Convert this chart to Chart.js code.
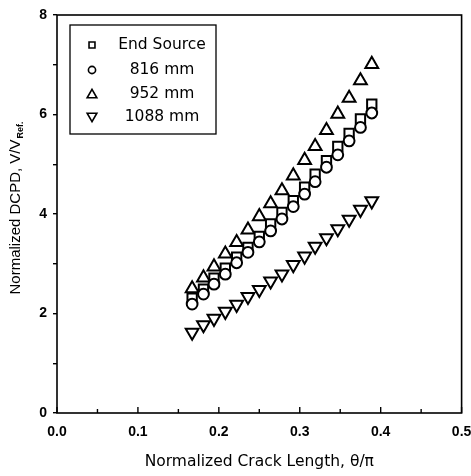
<!DOCTYPE html>
<html>
<head>
<meta charset="utf-8">
<script src="https://cdn.jsdelivr.net/npm/chart.js@4/dist/chart.umd.min.js"></script>
<style>
  html, body { margin: 0; padding: 0; background: #fff; }
  #wrap { width: 471px; height: 476px; position: relative; }
</style>
</head>
<body>
<div id="wrap"><canvas id="chart_dcpd"></canvas></div>
<script>
// normalized crack length theta/pi
var crackLength = [0.167, 0.181, 0.194, 0.208, 0.222, 0.236, 0.250, 0.264, 0.278,
                   0.292, 0.306, 0.319, 0.333, 0.347, 0.361, 0.375, 0.389];

var endSource = [2.31, 2.49, 2.71, 2.91, 3.13, 3.33, 3.55, 3.80, 4.03,
                 4.27, 4.54, 4.80, 5.07, 5.36, 5.62, 5.91, 6.21];
var probe816  = [2.19, 2.39, 2.59, 2.79, 3.02, 3.23, 3.44, 3.66, 3.90,
                 4.15, 4.40, 4.65, 4.94, 5.19, 5.47, 5.74, 6.03];
var probe952  = [2.50, 2.72, 2.94, 3.20, 3.43, 3.68, 3.95, 4.21, 4.47,
                 4.77, 5.08, 5.36, 5.68, 6.01, 6.33, 6.68, 7.01];
var probe1088 = [1.62, 1.77, 1.90, 2.04, 2.18, 2.34, 2.48, 2.65, 2.79,
                 2.98, 3.15, 3.35, 3.52, 3.70, 3.89, 4.09, 4.26];

var seriesLabels = ['End Source', '816 mm', '952 mm', '1088 mm'];
var xTickLabels = ['0.0', '0.1', '0.2', '0.3', '0.4', '0.5'];
var yTickLabels = ['0', '2', '4', '6', '8'];

function toPoints(ys) {
    return ys.map(function(y, i) { return {x: crackLength[i], y: y}; });
}

var markers = [
    {style: 'rect', radius: 6.6, rotation: 0, legendRadius: 4.2},
    {style: 'circle', radius: 5.4, rotation: 0, legendRadius: 3.6},
    {style: 'triangle', radius: 7.4, rotation: 0, legendRadius: 5.6},
    {style: 'triangle', radius: 7.4, rotation: 180, legendRadius: 5.6}
];
var seriesValues = [endSource, probe816, probe952, probe1088];
// circles sit on top of the squares
var drawOrder = [2, 1, 3, 4];

var datasets = seriesValues.map(function(vals, i) {
    return {
        label: seriesLabels[i],
        data: toPoints(vals),
        showLine: false,
        pointStyle: markers[i].style,
        pointRadius: markers[i].radius,
        pointRotation: markers[i].rotation,
        pointBorderWidth: 2,
        pointBorderColor: '#000',
        pointBackgroundColor: '#fff',
        order: drawOrder[i]
    };
});

var textFont = '"DejaVu Sans", Verdana, sans-serif';
var tickFont = { family: '"Liberation Sans", Arial, sans-serif', size: 14, weight: 'bold' };

var framePlugin = {
    id: 'frameAndTicks',
    afterDatasetsDraw: function(chart) {
        var ctx = chart.ctx;
        var a = chart.chartArea;
        var xs = chart.scales.x;
        ctx.save();
        ctx.strokeStyle = '#000';
        ctx.lineWidth = 1.6;
        ctx.strokeRect(a.left, a.top, a.right - a.left, a.bottom - a.top);
        // inward ticks on the bottom axis
        ctx.lineWidth = 1.4;
        xs.ticks.forEach(function(t) {
            var px = xs.getPixelForValue(t.value);
            var major = Math.abs(t.value * 10 - Math.round(t.value * 10)) < 1e-6;
            ctx.beginPath();
            ctx.moveTo(px, a.bottom);
            ctx.lineTo(px, a.bottom - (major ? 6 : 4));
            ctx.stroke();
        });
        ctx.restore();
    },
    afterDraw: function(chart) {
        var ctx = chart.ctx;
        var a = chart.chartArea;
        ctx.save();
        // y axis title with subscript
        var main = 'Normalized DCPD, V/V';
        var sub = 'Ref.';
        ctx.font = '15px "Liberation Sans", Arial, sans-serif';
        var wMain = ctx.measureText(main).width;
        ctx.font = 'bold 9px "Liberation Sans", Arial, sans-serif';
        var wSub = ctx.measureText(sub).width;
        var total = wMain + wSub + 1;
        var cy = (a.top + a.bottom) / 2 - 6;
        ctx.translate(16, cy);
        ctx.rotate(-Math.PI / 2);
        ctx.fillStyle = '#000';
        ctx.textBaseline = 'middle';
        ctx.textAlign = 'left';
        ctx.font = '15px "Liberation Sans", Arial, sans-serif';
        ctx.fillText(main, -total / 2, 0);
        ctx.font = 'bold 9px "Liberation Sans", Arial, sans-serif';
        ctx.fillText(sub, -total / 2 + wMain + 1, 5);
        ctx.restore();

        // legend box inside the plot
        ctx.save();
        var box = {left: 70, top: 25, right: 216, bottom: 134};
        ctx.fillStyle = '#fff';
        ctx.fillRect(box.left, box.top, box.right - box.left, box.bottom - box.top);
        ctx.strokeStyle = '#000';
        ctx.lineWidth = 1.3;
        ctx.strokeRect(box.left, box.top, box.right - box.left, box.bottom - box.top);
        var rowY = [45, 70, 94, 117];
        ctx.font = '15.5px ' + textFont;
        ctx.textBaseline = 'middle';
        ctx.textAlign = 'center';
        chart.data.datasets.forEach(function(ds, i) {
            ctx.lineWidth = 1.6;
            ctx.strokeStyle = '#000';
            ctx.fillStyle = '#fff';
            Chart.helpers.drawPoint(ctx, {
                pointStyle: markers[i].style,
                rotation: markers[i].rotation,
                radius: markers[i].legendRadius,
                borderWidth: 1.6
            }, 92, rowY[i] + (markers[i].style === 'triangle' ? (markers[i].rotation ? -1 : 1) : 0));
            ctx.fillStyle = '#000';
            ctx.fillText(ds.label, 162, rowY[i]);
        });
        ctx.restore();
    }
};

var chart_dcpd = new Chart(document.getElementById('chart_dcpd'), {
    type: 'scatter',
    data: { datasets: datasets },
    options: {
        animation: false,
        responsive: true,
        maintainAspectRatio: false,
        layout: { padding: { left: 0, right: 9, top: 15, bottom: 0 } },
        plugins: {
            legend: { display: false },
            tooltip: { enabled: false }
        },
        scales: {
            x: {
                type: 'linear',
                min: 0,
                max: 0.5,
                grid: { display: false, drawTicks: false },
                border: { display: false },
                ticks: {
                    stepSize: 0.05,
                    padding: 11,
                    color: '#000',
                    font: tickFont,
                    maxRotation: 0,
                    autoSkip: false,
                    callback: function(value) {
                        var k = Math.round(value * 10);
                        if (Math.abs(value * 10 - k) > 1e-6) return '';
                        return xTickLabels[k];
                    }
                },
                title: {
                    display: true,
                    text: 'Normalized Crack Length, \u03b8/\u03c0',
                    color: '#000',
                    font: { family: textFont, size: 15.5 },
                    padding: { top: 0, bottom: 5 }
                },
                afterFit: function(scale) {
                    scale.height = 63;
                    scale.paddingLeft = 0;
                    scale.paddingRight = 0;
                }
            },
            y: {
                type: 'linear',
                min: 0,
                max: 8,
                grid: { drawOnChartArea: false, drawTicks: true, tickLength: 4, color: '#000', lineWidth: 1.4 },
                border: { display: false },
                ticks: {
                    stepSize: 1,
                    padding: 6,
                    color: '#000',
                    font: tickFont,
                    callback: function(value) {
                        if (value % 2 !== 0) return '';
                        return yTickLabels[value / 2];
                    }
                },
                afterFit: function(scale) {
                    scale.width = 57;
                    scale.paddingTop = 0;
                    scale.paddingBottom = 0;
                }
            }
        }
    },
    plugins: [{
        id: 'whiteBackground',
        beforeDraw: function(chart) {
            var ctx = chart.canvas.getContext('2d');
            ctx.save();
            ctx.globalCompositeOperation = 'destination-over';
            ctx.fillStyle = 'white';
            ctx.fillRect(0, 0, chart.canvas.width, chart.canvas.height);
            ctx.restore();
        }
    }, framePlugin]
});
</script>
</body>
</html>
